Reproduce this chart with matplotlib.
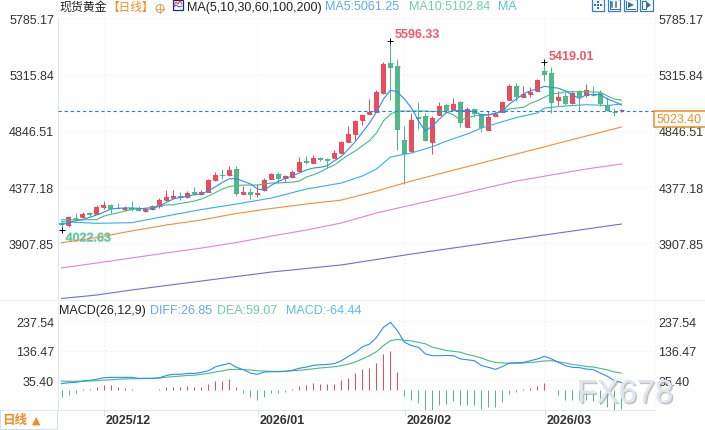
import matplotlib
matplotlib.use('Agg')
import matplotlib.pyplot as plt
from matplotlib.patches import Rectangle, Circle
import matplotlib.patheffects as pe

# Candles, one per trading day
opens = [4079,4065,4122,4129,4162,4154,4210,4229,4201,4198,
         4201,4201,4181,4198,4218,4268,4287,4304,4298,4337,
         4320,4340,4437,4479,4479,4529,4320,4337,4322,4354,
         4445,4487,4454,4462,4512,4596,4579,4621,4612,4621,
         4662,4754,4821,4937,4987,5004,5162,5412,5387,4771,
         4676,4965,4971,4756,4979,5062,5021,5087,4879,5029,
         4987,4856,4973,5006,5104,5221,5129,5154,5179,5346,
         5329,5104,5137,5079,5179,5146,5148,5162,5065,5003,
         5018]
closes = [4062,4129,4119,4154,4145,4212,4226,4195,4198,4206,
          4185,4181,4195,4220,4270,4295,4304,4287,4329,4320,
          4337,4437,4479,4474,4521,4323,4337,4312,4327,4437,
          4487,4445,4471,4504,4587,4579,4621,4604,4596,4662,
          4754,4821,4929,4979,5004,5171,5404,5371,4854,4651,
          4937,4946,4765,4954,5054,5012,5071,4915,5029,4987,
          4871,4960,4985,5090,5221,5129,5154,5171,5271,5315,
          5075,5129,5071,5162,5129,5187,5143,5071,5015,5000,
          5023]
highs = [4095,4140,4160,4170,4170,4229,4262,4237,4245,4220,
         4262,4218,4215,4229,4285,4354,4354,4337,4345,4379,
         4354,4445,4504,4529,4554,4554,4387,4370,4404,4454,
         4496,4504,4479,4521,4629,4637,4646,4629,4621,4687,
         4762,4887,4937,4987,5112,5187,5421,5596.33,5446,4887,
         4996,5087,4996,4971,5087,5079,5121,5096,5046,5037,
         4996,5012,5004,5098,5237,5246,5221,5210,5279,5419.01,
         5379,5177,5171,5179,5187,5237,5221,5187,5129,5037,
         5033]
lows = [4022.63,4045,4098,4123,4140,4151,4195,4162,4195,4179,
        4181,4179,4170,4190,4206,4262,4285,4270,4290,4312,
        4312,4337,4429,4445,4471,4304,4318,4279,4295,4345,
        4443,4412,4420,4454,4510,4571,4576,4596,4537,4618,
        4660,4751,4771,4896,4987,5001,5154,5104,4687,4404,
        4668,4862,4762,4654,4977,4996,5018,4879,4876,4962,
        4837,4854,4971,5001,5102,5096,5127,5129,5177,5265,
        4996,5057,5065,5071,5012,5129,5137,5054,5012,4973,
        5000]

# Moving averages
ma5 = [4065,4079,4098,4106,4126,4145,4168,4195,4201,4204,
       4204,4201,4195,4195,4220,4251,4279,4293,4301,4315,
       4320,4348,4381,4418,4448,4448,4426,4404,4362,4354,
       4395,4426,4451,4473,4496,4521,4537,4543,4556,4598,
       4635,4696,4760,4835,4912,5004,5112,5187,5171,5112,
       5037,4929,4846,4887,4946,5000,5015,5015,5015,5007,
       4979,4979,4991,5012,5071,5112,5154,5182,5196,5218,
       5210,5202,5179,5146,5117,5148,5152,5148,5112,5090,
       5061.25]
ma10 = [4106,4106,4106,4106,4106,4106,4135,4150,4162,4179,
        4190,4198,4201,4212,4223,4229,4231,4241,4251,4262,
        4279,4304,4333,4362,4383,4391,4395,4395,4395,4404,
        4412,4412,4416,4420,4429,4462,4481,4506,4537,4562,
        4606,4646,4681,4723,4765,4829,4931,4987,5012,5012,
        5012,5012,5012,5008,5012,5004,4979,4937,4954,4973,
        4979,4981,4996,5010,5029,5037,5043,5077,5098,5127,
        5154,5160,5173,5173,5173,5173,5171,5168,5137,5112,
        5102.84]
ma30_days = [0,5,10,15,20,25,30,35,40,43,45,47,50,53,55,58,60,65,68,69,72,75,78,80]
ma30 = [4090,4076,4081,4137,4191,4237,4287,4362,4412,4471,4529,4629,4662,4715,4762,4821,4871,4958,4996,5037,5054,5065,5058,5071]
ma60_days = [0,5,10,15,20,25,30,35,40,45,50,55,60,65,70,75,80]
ma60 = [3914,3958,4012,4062,4104,4158,4200,4237,4270,4345,4429,4504,4579,4654,4729,4804,4879]
ma100 = [3704,3745,3787,3829,3870,3916,3970,4020,4079,4162,4229,4295,4362,4429,4479,4529,4571]
ma200_days = [0,5,10,20,30,40,50,60,70,80]
ma200 = [3449,3478,3520,3595,3670,3729,3820,3904,3987,4070]

# MACD panel
diff = [22.7,26,27,32,34,38,43,44.5,44.5,44.5,
        44.5,41,41,41,43,51,55,55,58,58,
        62,67,81,87,93,79,71,59,55,63,
        64,64,65,69,76,80,86,88,89,92,
        102,117,131,150,159,182,217,234,205,165,
        154,148,125,119,119,120,119,108,105,102,
        85,79,72,82,94,95,96,102,108,117,
        108,96,85,79,78,73,71,59,48,33,
        26.85]
dea = [31,31,31,31,32,33,35,36,38,39,
       40,40,41,41,42,45,47,49,51,52,
       55,58,63,67,72,72,71,70,67,66,
       65,65,66,67,69,71,74,77,79,81,
       85,90,98,108,119,133,154,171,175,172,
       170,165,160,148,143,137,134,131,123,118,
       111,102,96,94,93,93,94,96,98,101,
       102,98,94,89,86,82,80,75,70,63,
       59.07]
macd = [-22,-16,-8,4,6,12,17,17,13,9,
        5,1,1,1,6,11,12,12,15,13,
        13,23,32,32,39,13,-8,-24,-33,-24,
        -10,-8,-5,3,16,18,25,22,21,23,
        34,44,60,74,76,94,126,134,63,-20,
        -32,-44,-67,-67,-50,-48,-36,-50,-50,-50,
        -64,-59,-57,-39,-13,-5,3,7,15,25,
        1,-16,-32,-32,-32,-32,-36,-48,-59,-67,
        -64.44]

price_ticks = [5785.17, 5315.84, 4846.51, 4377.18, 3907.85]
macd_ticks = [237.54, 136.47, 35.40]
month_days = [6, 28, 49, 69]
month_labels = ['2025/12', '2026/01', '2026/02', '2026/03']
last_line = 5016

RED = '#ec4b5c'
GREEN = '#52b888'
C_MA5 = '#2e8df5'
C_MA10 = '#42bd84'
C_MA30 = '#36aeea'
C_MA60 = '#f58d3c'
C_MA100 = '#e084dc'
C_MA200 = '#6a6fe0'
GRID = '#e6e8ea'
TXT = '#333333'
LATIN = ['Liberation Sans', 'DejaVu Sans']
CJK = ['Noto Sans CJK SC', 'DejaVu Sans']

W, H = 705, 431
LEFT, RIGHT = 57.5, 655
fig = plt.figure(figsize=(W / 100, H / 100), dpi=100, facecolor='white')


def panel(top, bottom):
    return fig.add_axes([LEFT / W, 1 - bottom / H, (RIGHT - LEFT) / W, (bottom - top) / H])


ax = panel(19.3, 300)
ax2 = panel(301, 411)
px = 72 / 100  # one pixel in points
line_w = 0.8

for a in (ax, ax2):
    # 7 pixels per day, first candle on pixel 61
    a.set_xlim(-4 / 7, (RIGHT - LEFT - 4) / 7)
    for side in ('top', 'bottom', 'right'):
        a.spines[side].set_visible(False)
    a.spines['left'].set_color('#dfe7ee')
    a.spines['left'].set_linewidth(px)
    a.set_xticks(month_days)
    a.grid(True, color=GRID, linewidth=px, linestyle=(0, (1, 3)))
    a.set_axisbelow(True)
    a.tick_params(length=0, labelleft=True, labelright=True, left=False, right=False,
                  labelsize=9, labelcolor=TXT, pad=2.5)
    a.tick_params(axis='x', labelbottom=False, labelleft=False)

# Price panel
ax.set_ylim(3445, 5785.17)
ax.set_yticks(price_ticks)
ax.set_yticklabels(['%.2f' % v for v in price_ticks], family=LATIN)

days = range(len(closes))
for i in days:
    up = closes[i] >= opens[i]
    col = RED if up else GREEN
    ax.vlines(i, lows[i], highs[i], color=col, linewidth=px, zorder=3)
    low_body, high_body = sorted((opens[i], closes[i]))
    ax.bar(i, high_body - low_body, bottom=low_body, width=5 / 7, color=col, linewidth=0, zorder=3)
    ax.hlines(opens[i], i - 2.5 / 7, i + 2.5 / 7, color=col, linewidth=px, zorder=3)

ax.plot(ma200_days, ma200, color=C_MA200, lw=line_w, zorder=4)
ax.plot(ma60_days, ma100, color=C_MA100, lw=line_w, zorder=4)
ax.plot(ma60_days, ma60, color=C_MA60, lw=line_w, zorder=4)
ax.plot(ma30_days, ma30, color=C_MA30, lw=line_w, zorder=4)
ax.plot(days, ma10, color=C_MA10, lw=line_w, zorder=4)
ax.plot(days, ma5, color=C_MA5, lw=line_w, zorder=4)
ax.axhline(last_line, color='#1f80e0', lw=line_w, linestyle=(0, (3, 2.5)), zorder=5)

# High and low markers
for day, val in [(47, highs[47]), (69, highs[69]), (0, lows[0])]:
    ax.plot(day, val, marker='+', ms=5, mew=px, color='black', zorder=6)
ax.annotate('5596.33', (47, highs[47]), xytext=(3.2, 0.5), textcoords='offset points',
            color='#ee5a6a', fontsize=9, fontweight='bold', family=LATIN, va='bottom')
ax.annotate('5419.01', (69, highs[69]), xytext=(3, 0.5), textcoords='offset points',
            color='#ee5a6a', fontsize=9, fontweight='bold', family=LATIN, va='bottom')
ax.annotate('4022.63', (0, lows[0]), xytext=(3, -2), textcoords='offset points',
            color='#66c2a0', fontsize=9, fontweight='bold', family=LATIN, va='top',
            path_effects=[pe.withStroke(linewidth=1, foreground='#c8eef0')])

# MACD panel
ax2.set_ylim(-67.9, 310.9)
ax2.set_yticks(macd_ticks)
ax2.set_yticklabels(['%.2f' % v for v in macd_ticks], family=LATIN)
ax2.vlines(days, 0, macd, colors=[RED if v > 0 else GREEN for v in macd], linewidth=px, zorder=3)
ax2.plot(days, dea, color=C_MA10, lw=line_w, zorder=4)
ax2.plot(days, diff, color=C_MA5, lw=line_w, zorder=4)

# Everything below is drawn in reference pixels on a clear overlay
ov = fig.add_axes([0, 0, 1, 1], zorder=5)
ov.set_xlim(0, W)
ov.set_ylim(H, 0)
ov.axis('off')


def label(x, y, s, color=TXT, size=9, family=LATIN, **kw):
    ov.text(x, y, s, color=color, fontsize=size, family=family, va='center', **kw)


label(59, 7, '现货黄金', color='#222222', size=8.6, family=CJK)
label(107, 7, '【日线】', color='#f58a1f', size=8.4, family=CJK)
ov.add_patch(Circle((160, 9.5), 4, fill=False, ec='#f2914a', lw=0.7))
ov.plot([156, 164], [9.5, 9.5], color='#f2914a', lw=0.6)
ov.plot([160, 160], [5.5, 13.5], color='#f2914a', lw=0.6)

# MA indicator icon
ov.add_patch(Rectangle((173, 0.5), 10, 10, fill=False, ec='#1a2a80', lw=0.9))
ov.plot([174, 176, 178, 180, 182], [6, 3, 5, 2, 5], color='#e03030', lw=0.7)
ov.plot([174, 176, 179, 182], [8, 6, 8, 7], color='#2060c0', lw=0.7)

label(187, 7.5, 'MA(5,10,30,60,100,200)', color='#222222', size=9)
label(325.5, 7.5, 'MA5:5061.25', color='#62a6f5', size=9)
label(409, 7.5, 'MA10:5102.84', color='#6fcfa5', size=9)
label(498, 7.5, 'MA', color='#5bbcf0', size=9)

# Toolbar buttons
for bx in (591.5, 607.5, 624, 640):
    ov.add_patch(Rectangle((bx, 0), 12.5, 12.3, fill=False, ec='#2f80c8', lw=0.9))
for dx, dy in [(597.7, 3), (597.7, 6), (597.7, 9), (594.7, 6), (600.7, 6)]:
    ov.add_patch(Rectangle((dx - 1, dy - 1), 2, 2, color='#2f6fa8', lw=0))
ov.plot([609.5, 609.5, 618.5], [2, 10, 10], color='#2f6fa8', lw=0.7)
ov.plot([612, 612], [3, 8], color='#2f6fa8', lw=1.1)
ov.plot([616, 616], [3, 8], color='#2f6fa8', lw=1.1)
ov.plot([626, 626, 635], [2, 10, 10], color='#2f6fa8', lw=0.7)
ov.fill([628, 634, 628], [3, 6, 9], color='#2f6fa8', lw=0)
ov.plot([642, 642, 646, 646, 642], [2, 10, 10, 2, 2], color='#2f6fa8', lw=0.7)
ov.fill([647, 651, 647], [3, 6, 9], color='#2f6fa8', lw=0)

# Panel frame lines
ov.plot([0, W], [300.5, 300.5], color='#e8eef3', lw=px)
ov.plot([0, RIGHT], [411.5, 411.5], color='#e3e8ee', lw=px)
ov.plot([RIGHT, RIGHT], [19, 411], color=GRID, lw=px, linestyle=(0, (1, 3)))

# Last price box
ov.add_patch(Rectangle((654, 112), 52, 16, fc='white', ec='#f58a1f', lw=1.1, zorder=6))
label(657, 120, '5023.40', color='#f58a1f', size=9, zorder=7)

label(59, 311, 'MACD(26,12,9)', color='#222222', size=9)
label(150, 311, 'DIFF:26.85', color='#62a6f5', size=9)
label(217, 311, 'DEA:59.07', color='#6fcfa5', size=9)
label(286, 311, 'MACD:-64.44', color='#5bbcf0', size=9)

# Month labels under the candles
for day, text in zip(month_days, month_labels):
    x = 61.5 + 7 * day
    ov.plot([x, x], [411, 416], color='#d8dfe6', lw=px)
    label(x + 1.7, 421, text, color='#333333', size=9, fontweight='bold')

# Period selector
ov.add_patch(Rectangle((0, 411.5), 56.5, 19, fc='white', ec='#d5dde6', lw=px))
label(2, 421, '日线', color='#f58a1f', size=9, family=CJK, fontweight='bold')
label(31.5, 421, '▲', color='#f58a1f', size=8, family=['DejaVu Sans'])

# Watermark
ov.text(577, 395, 'FX678', color='#dde7f3', fontsize=23.5, family=LATIN, va='center', zorder=8,
        alpha=0.9, path_effects=[pe.withSimplePatchShadow(offset=(1.2, -1.2), shadow_rgbFace='#a89a8c', alpha=0.6),
                                 pe.Normal()])

fig.savefig('out.png', dpi=100, facecolor='white')
